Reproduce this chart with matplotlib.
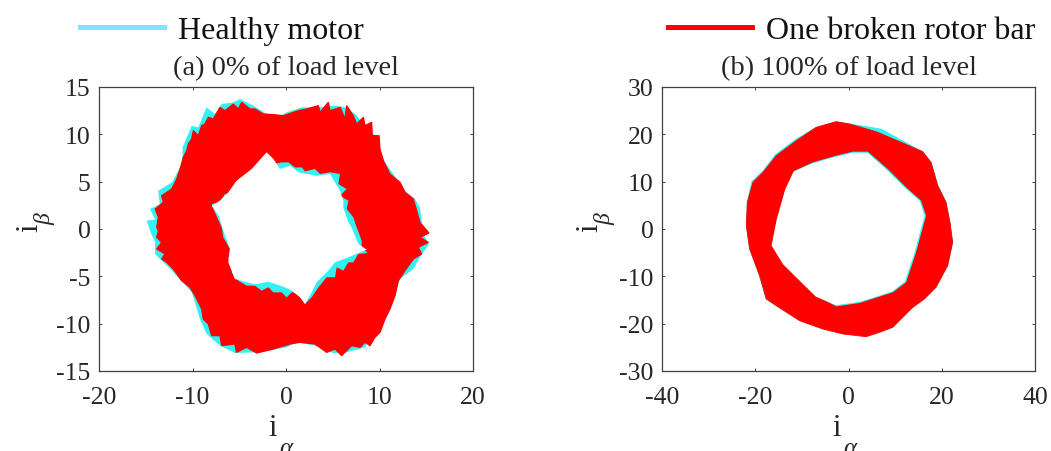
import matplotlib
matplotlib.use('Agg')
import matplotlib.pyplot as plt

plt.rcParams['font.family'] = ['Liberation Serif', 'DejaVu Serif']
plt.rcParams['axes.unicode_minus'] = False

# (a) 0% load: edges of the current trajectory band
red_a_outer_x = [-13.83, -13.65, -13.99, -13.12, -13.3, -12.23, -11.69, -11.33, -10.98, -10.62, -10.45, -10.09, -9.91,
                 -9.38, -9.02, -8.67, -8.31, -7.78, -7.06, -6.53, -5.63, -5.1, -4.74, -3.85, -3.32, -2.43, -1.35,
                 -0.29, 1.32, 2.21, 3.46, 3.64, 4.53, 4.71, 5.8, 6.31, 6.49, 7.2, 7.56, 8.27, 8.45, 9.16, 9.23, 9.95,
                 10.05, 10.41, 11.12, 12.19, 12.73, 13.62, 13.97, 14.33, 15.29, 14.33, 15.22, 14.15, 14.51, 13.62,
                 12.73, 12.01, 11.66, 11.12, 10.59, 10.05, 9.52, 8.99, 8.45, 7.91, 7.02, 5.95, 5.24, 4.35, 3.1, 1.5,
                 0.43, -1.35, -3.14, -4.21, -5.29, -5.47, -6.88, -7.06, -7.95, -8.31, -8.85, -9.02, -9.73, -10.27,
                 -11.16, -12.05, -12.76, -13.3, -12.94, -13.83, -13.3, -13.83, -13.65]
red_a_outer_y = [0.18, 1.23, 2.11, 2.82, 3.52, 4.22, 5.28, 6.34, 7.57, 8.27, 8.98, 9.5, 10.39, 9.86, 10.92, 11.09, 11.8,
                 11.62, 12.85, 12.5, 13.2, 12.68, 13.38, 12.68, 12.68, 12.15, 12.08, 11.97, 12.5, 12.68, 13.03, 12.32,
                 13.38, 12.5, 12.85, 11.62, 13.03, 11.97, 11.09, 11.8, 10.92, 11.27, 9.86, 9.86, 8.45, 7.2, 5.81, 4.93,
                 3.87, 3.17, 1.97, 0.7, -0.42, -0.88, -1.41, -1.94, -2.64, -3.17, -4.4, -5.46, -7.04, -8.45, -9.51,
                 -10.92, -11.44, -12.32, -11.97, -12.5, -12.32, -13.38, -12.68, -13.03, -12.15, -11.97, -12.15, -12.68,
                 -13.1, -12.5, -13.03, -12.15, -12.32, -11.27, -11.27, -10.04, -9.51, -8.45, -7.04, -6.16, -5.46,
                 -4.23, -3.52, -3.17, -2.64, -2.11, -1.41, -0.88, -0.18]
red_a_inner_x = [-6.88, -7.6, -7.95, -7.06, -6.53, -5.81, -5.45, -4.74, -4.03, -3.32, -2.78, -2.07, -1.54, -1.18, -0.46,
                 0.25, 0.96, 1.68, 2.03, 3.1, 3.64, 4.71, 5.77, 5.6, 6.49, 5.77, 6.67, 6.49, 7.2, 7.56, 8.09, 8.09,
                 8.73, 7.73, 7.2, 6.67, 6.13, 5.42, 5.24, 4.35, 3.46, 2.74, 2.03, 1.32, 0.61, 0.07, -0.46, -1.35,
                 -1.89, -2.6, -3.32, -4.21, -5.1, -5.81, -5.45, -6.17, -5.99, -6.7]
red_a_inner_y = [0.18, 1.76, 2.64, 2.82, 3.7, 3.7, 4.93, 4.93, 5.99, 5.99, 7.04, 7.4, 7.4, 6.87, 7.04, 7.04, 6.5, 6.5,
                 6.09, 6.34, 5.81, 5.99, 5.81, 4.75, 4.22, 3.52, 2.99, 2.11, 1.23, 0.18, -1.23, -1.94, -2.54, -2.64,
                 -3.52, -3.52, -4.4, -4.05, -5.1, -5.1, -6.16, -7.22, -7.92, -6.69, -6.69, -7.22, -6.69, -6.69, -6.16,
                 -6.51, -5.99, -5.99, -5.46, -4.58, -4.05, -3.17, -2.11, -0.88]

cyan_a_outer_x = [-14.9, -14.0, -14.55, -13.5, -13.66, -12.2, -11.13, -11.05, -10.09, -9.38, -8.5, -7.6, -6.88, -5.63,
                  -4.92, -3.5, -2.07, -0.65, 0.07, 1.68, 3.46, 5.24, 6.31, 7.38, 8.63, 9.52, 10.59, 12.73, 13.8, 14.33,
                  14.69, 15.29, 14.33, 13.62, 12.19, 11.5, 10.77, 9.52, 8.45, 6.49, 5.06, 3.1, 1.14, 0.07, -3.14,
                  -5.47, -7.06, -8.49, -9.2, -10.07, -12.2, -14.0, -14.0, -14.4]
cyan_a_outer_y = [0.88, 1.0, 2.11, 2.6, 4.04, 4.93, 6.87, 8.63, 10.9, 10.74, 12.85, 12.15, 13.2, 13.38, 13.73, 13.03,
                  12.15, 11.97, 12.32, 12.85, 12.85, 13.03, 12.85, 12.15, 10.74, 9.86, 7.04, 4.05, 3.17, 2.25, -0.53,
                  -1.58, -2.99, -4.22, -5.28, -7.57, -9.15, -10.56, -12.5, -13.03, -13.1, -12.32, -11.97, -12.5,
                  -13.03, -13.1, -12.32, -11.09, -9.51, -6.69, -4.4, -2.64, -1.41, -0.53]
cyan_a_inner_x = [-6.52, -7.2, -7.95, -7.06, -6.17, -5.27, -3.67, -2.07, -1.35, -0.65, 0.46, 1.32, 3.28, 4.71, 5.77,
                  6.13, 6.13, 6.67, 7.02, 7.73, 8.63, 6.67, 5.24, 4.53, 3.28, 2.56, 2.03, 1.5, 0.61, -0.11, -1.89,
                  -3.32, -5.47, -6.17, -5.99]
cyan_a_inner_y = [-0.7, 1.4, 2.46, 3.0, 3.87, 5.11, 6.34, 8.1, 7.4, 6.34, 6.69, 5.99, 5.63, 5.81, 4.05, 2.99, 2.25, 0.7,
                  0.18, -1.58, -2.18, -2.99, -3.52, -4.4, -5.63, -7.04, -7.92, -7.22, -6.51, -6.16, -5.56, -5.85,
                  -5.28, -3.52, -2.11]

# (b) 100% load
red_b_outer_x = [-2.64, 0.21, 5.92, 11.63, 15.92, 17.7, 19.13, 20.91, 21.77, 22.34, 21.27, 18.77, 16.27, 13.78, 9.49,
                 6.64, 3.78, -1.21, -5.5, -10.49, -15.49, -17.63, -19.06, -21.2, -21.91, -21.7, -20.49, -18.34,
                 -15.49, -11.21, -6.92]
red_b_outer_y = [22.68, 22.18, 20.56, 18.17, 16.34, 14.08, 9.15, 5.63, 1.41, -2.82, -7.75, -12.32, -14.79, -16.55,
                 -20.77, -21.83, -22.75, -22.18, -21.13, -19.37, -16.2, -14.79, -9.86, -4.23, 0.7, 5.63, 9.86, 11.97,
                 15.49, 18.66, 21.48]
red_b_inner_x = [4.14, 0.93, -2.64, -7.64, -11.56, -13.35, -15.13, -16.2, -13.7, -9.78, -6.92, -2.64, 2.36, 9.49,
                 12.35, 14.49, 16.63, 15.56, 12.35, 8.42]
red_b_inner_y = [16.34, 16.34, 15.49, 14.08, 12.32, 8.45, 2.11, -3.52, -7.39, -11.27, -14.08, -16.34, -15.63, -13.38,
                 -11.27, -4.93, 2.82, 5.99, 8.8, 12.68]

cyan_b_outer_x = [-2.6, 0.3, 7.0, 12.0, 15.9, 17.8, 19.3, 21.0, 21.8, 22.4, 21.3, 18.8, 16.3, 13.8, 9.5, 6.6, 3.8,
                  -1.2, -5.5, -10.5, -15.6, -17.8, -19.2, -21.3, -22.0, -21.8, -20.8, -18.5, -15.7, -11.5, -7.0]
cyan_b_outer_y = [22.7, 22.3, 21.2, 18.5, 16.4, 14.1, 9.2, 5.7, 1.4, -2.8, -7.8, -12.3, -14.8, -16.6, -20.8, -21.8,
                  -22.7, -22.1, -21.1, -19.3, -16.2, -14.7, -9.9, -4.2, 0.7, 5.7, 10.1, 12.2, 15.8, 18.9, 21.5]
cyan_b_inner_x = [4.1, 0.9, -2.6, -7.6, -11.8, -13.6, -15.4, -16.5, -14.0, -10.0, -7.0, -2.7, 2.4, 9.4, 12.1, 14.2,
                  16.3, 15.3, 12.2, 8.3]
cyan_b_inner_y = [16.1, 16.1, 15.3, 13.9, 12.1, 8.3, 2.0, -3.5, -7.5, -11.4, -14.3, -16.1, -15.4, -13.2, -11.1, -4.9,
                  2.8, 5.9, 8.6, 12.4]

titles = ['(a) 0% of load level', '(b) 100% of load level']
xticks_a = [-20, -10, 0, 10, 20]
yticks_a = [-15, -10, -5, 0, 5, 10, 15]
xticks_b = [-40, -20, 0, 20, 40]
yticks_b = [-30, -20, -10, 0, 10, 20, 30]

W, H = 1051, 452
CYAN = '#30f2f2'
RED = '#ff0000'
TEXT = '#262626'


def draw_band(ax, cyan_outer, red_outer, red_hole, cyan_hole, red_lw):
    # cyan under red, then the hole: red's edge shows cyan, cyan's own edge shows white
    ax.fill(*cyan_outer, color=CYAN, lw=0)
    ax.fill(*red_outer, color=RED, lw=red_lw)
    ax.fill(*red_hole, color=CYAN, lw=0)
    ax.fill(*cyan_hole, color='white', lw=0)


def make_axes(left, right, top, bottom):
    ax = fig.add_axes([left / W, 1 - bottom / H, (right - left) / W, (bottom - top) / H])
    ax.tick_params(direction='in', length=2.5, width=0.7, top=True, right=True, labelsize=18.5,
                   colors='#404040', labelcolor=TEXT)
    ax.tick_params(axis='x', pad=11)
    ax.tick_params(axis='y', pad=6)
    for s in ax.spines.values():
        s.set_linewidth(0.9)
        s.set_color('#404040')
    return ax


fig = plt.figure(figsize=(W / 100, H / 100), dpi=100)

ax1 = make_axes(99, 473, 88, 372)
draw_band(ax1, (cyan_a_outer_x, cyan_a_outer_y), (red_a_outer_x, red_a_outer_y),
          (red_a_inner_x, red_a_inner_y), (cyan_a_inner_x, cyan_a_inner_y), 0.9)
ax1.set_xlim(-20, 20)
ax1.set_ylim(-15, 15)
ax1.set_xticks(xticks_a)
ax1.set_yticks(yticks_a)

ax2 = make_axes(662, 1035, 88, 372)
draw_band(ax2, (cyan_b_outer_x, cyan_b_outer_y), (red_b_outer_x, red_b_outer_y),
          (red_b_inner_x, red_b_inner_y), (cyan_b_inner_x, cyan_b_inner_y), 0.6)
ax2.set_xlim(-40, 40)
ax2.set_ylim(-30, 30)
ax2.set_xticks(xticks_b)
ax2.set_yticks(yticks_b)

# titles and axis names placed by hand
fig.text(285.5 / W, 1 - 69 / H, titles[0], ha='center', va='center', fontsize=20.5, color=TEXT)
fig.text(848.5 / W, 1 - 69 / H, titles[1], ha='center', va='center', fontsize=20.5, color=TEXT)

for cx in (273, 837):
    fig.text(cx / W, 1 - 429 / H, 'i', ha='center', va='center', fontsize=22, color=TEXT)
    fig.text((cx + 13) / W, 1 - 449 / H, '\u03b1', ha='center', va='center', fontsize=18, style='italic', color=TEXT)
for cx in (30, 590):
    fig.text(cx / W, 1 - 228 / H, 'i', ha='center', va='center', fontsize=22, rotation=90, color=TEXT)
    fig.text((cx + 15) / W, 1 - 219 / H, '\u03b2', ha='center', va='center', fontsize=17, rotation=90, style='italic',
             color=TEXT)

h1, = ax1.plot([], [], color='#7fe5ff', lw=3.6)
h2, = ax2.plot([], [], color=RED, lw=3.6)
for h, lab, x0 in ((h1, 'Healthy motor', 80), (h2, 'One broken rotor bar', 668)):
    fig.legend([h], [lab], loc='center left', bbox_to_anchor=(x0 / W, 1 - 31 / H), frameon=False, fontsize=23,
               borderpad=0, borderaxespad=0, handlelength=2.63, handletextpad=0.45, labelcolor='#111111')

fig.savefig('out.png', dpi=100)
